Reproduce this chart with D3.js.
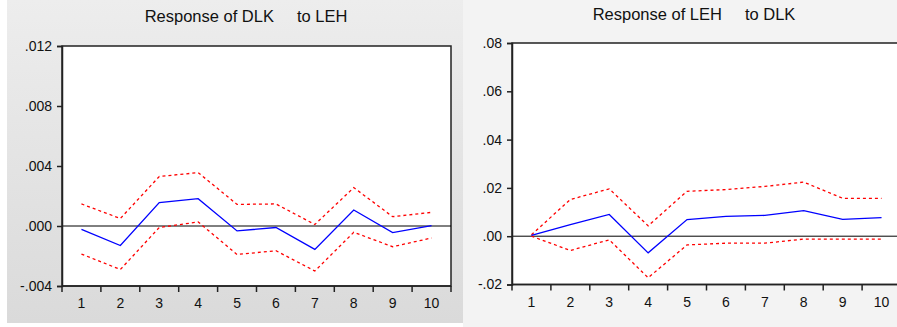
<!DOCTYPE html>
<html>
<head>
<meta charset="utf-8">
<script src="https://cdn.jsdelivr.net/npm/d3@7"></script>
<style>
  body { margin: 0; background: #fff; }
  svg { display: block; font-family: "Liberation Sans", Arial, sans-serif; }
</style>
</head>
<body>
<div id="chart"></div>
<script>
var periods = [1, 2, 3, 4, 5, 6, 7, 8, 9, 10];

// Response of DLK to LEH
var dlkResp  = [-0.00022, -0.0013, 0.00156, 0.00182, -0.00033, -0.0001, -0.00156, 0.00107, -0.00044, 0.00002];
var dlkUpper = [0.00147, 0.0005, 0.0033, 0.00356, 0.00144, 0.00147, 0.0001, 0.00256, 0.00062, 0.00091];
var dlkLower = [-0.00187, -0.0029, -0.0001, 0.00027, -0.0019, -0.00165, -0.003, -0.00042, -0.00138, -0.0008];
var dlkTicks = [-0.004, 0, 0.004, 0.008, 0.012];
var dlkTickLabels = ["-.004", ".000", ".004", ".008", ".012"];

// Response of LEH to DLK
var lehResp  = [0.0003, 0.0048, 0.009, -0.0069, 0.0069, 0.0082, 0.0086, 0.0106, 0.007, 0.0077];
var lehUpper = [0.0006, 0.0152, 0.0196, 0.0043, 0.0186, 0.0193, 0.0206, 0.0224, 0.0157, 0.0157];
var lehLower = [0.0, -0.0059, -0.0015, -0.0172, -0.0036, -0.0029, -0.0029, -0.0012, -0.0012, -0.0012];
var lehTicks = [-0.02, 0, 0.02, 0.04, 0.06, 0.08];
var lehTickLabels = ["-.02", ".00", ".02", ".04", ".06", ".08"];

var svg = d3.select("#chart").append("svg")
  .attr("width", 897)
  .attr("height", 327);

var defs = svg.append("defs");
var grad = defs.append("linearGradient")
  .attr("id", "leftbg").attr("x1", 0).attr("y1", 0).attr("x2", 0).attr("y2", 1);
grad.append("stop").attr("offset", "0%").attr("stop-color", "#ededed");
grad.append("stop").attr("offset", "100%").attr("stop-color", "#dadada");

// panel backgrounds
svg.append("rect").attr("x", 7).attr("y", 0).attr("width", 456).attr("height", 323)
  .attr("fill", "url(#leftbg)");
svg.append("rect").attr("x", 463).attr("y", 0).attr("width", 434).attr("height", 327)
  .attr("fill", "#f3f3f3");

function drawPanel(opt) {
  var g = svg.append("g");
  var x = d3.scaleBand().domain(periods).range([opt.left, opt.right]);
  var y = d3.scaleLinear().domain(opt.domain).range([opt.bottom, opt.top]);

  // plot area
  g.append("rect")
    .attr("x", opt.left).attr("y", opt.top)
    .attr("width", opt.right - opt.left).attr("height", opt.bottom - opt.top)
    .attr("fill", "#fff")
    .attr("stroke", "#222").attr("stroke-width", 1.5);

  // zero line
  g.append("line")
    .attr("x1", opt.left).attr("x2", opt.right)
    .attr("y1", y(0)).attr("y2", y(0))
    .attr("stroke", "#000").attr("stroke-width", 1);

  // y axis
  var yAxis = g.append("g")
    .attr("transform", "translate(" + opt.left + ",0)")
    .call(d3.axisLeft(y).tickValues(opt.ticks)
      .tickFormat(function(d, i) { return opt.tickLabels[i]; })
      .tickSize(5).tickPadding(5));
  yAxis.select(".domain").attr("stroke", "#222").attr("stroke-width", 1.5);
  yAxis.selectAll(".tick line").attr("stroke", "#222").attr("stroke-width", 1.5);
  yAxis.selectAll("text").attr("font-size", 14).attr("fill", "#111");

  // x axis: ticks at band edges, labels at centers
  var edges = periods.map(function(p) { return x(p); }).concat([x(10) + x.bandwidth()]);
  var xg = g.append("g");
  xg.append("line")
    .attr("x1", opt.left).attr("x2", opt.right)
    .attr("y1", opt.bottom).attr("y2", opt.bottom)
    .attr("stroke", "#222").attr("stroke-width", 1.5);
  xg.selectAll(".xt").data(edges).enter().append("line")
    .attr("x1", function(d) { return d; }).attr("x2", function(d) { return d; })
    .attr("y1", opt.bottom).attr("y2", opt.bottom + 6)
    .attr("stroke", "#222").attr("stroke-width", 1.5);
  xg.selectAll(".xl").data(periods).enter().append("text")
    .attr("x", function(d) { return x(d) + x.bandwidth() / 2; })
    .attr("y", opt.bottom + 22)
    .attr("text-anchor", "middle")
    .attr("font-size", 14).attr("fill", "#111")
    .text(function(d) { return d; });

  var line = d3.line()
    .x(function(d, i) { return x(periods[i]) + x.bandwidth() / 2; })
    .y(function(d) { return y(d); });

  [opt.upper, opt.lower].forEach(function(s) {
    g.append("path").datum(s)
      .attr("d", line)
      .attr("fill", "none")
      .attr("stroke", "#ff0000")
      .attr("stroke-width", 1.3)
      .attr("stroke-dasharray", "3,3");
  });
  g.append("path").datum(opt.resp)
    .attr("d", line)
    .attr("fill", "none")
    .attr("stroke", "#0000ff")
    .attr("stroke-width", 1.3);

  g.append("text")
    .attr("x", opt.titleX).attr("y", opt.titleY)
    .attr("text-anchor", "middle")
    .attr("font-size", 16.5).attr("fill", "#111")
    .style("white-space", "pre")
    .attr("xml:space", "preserve")
    .text(opt.title);
}

drawPanel({
  left: 62, right: 451, top: 46, bottom: 286,
  domain: [-0.004, 0.012], ticks: dlkTicks, tickLabels: dlkTickLabels,
  resp: dlkResp, upper: dlkUpper, lower: dlkLower,
  title: "Response of DLK     to LEH", titleX: 246, titleY: 22
});

drawPanel({
  left: 512, right: 901, top: 43, bottom: 284.5,
  domain: [-0.02, 0.08], ticks: lehTicks, tickLabels: lehTickLabels,
  resp: lehResp, upper: lehUpper, lower: lehLower,
  title: "Response of LEH     to DLK", titleX: 694, titleY: 20
});
</script>
</body>
</html>
